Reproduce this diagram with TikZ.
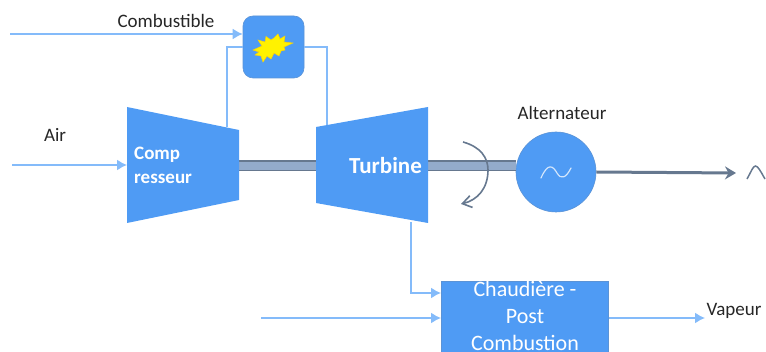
\documentclass[tikz,border=0pt]{standalone}
\usepackage{fontspec}
\setmainfont{Carlito}
\usetikzlibrary{arrows.meta,calc}
\definecolor{blockblue}{HTML}{4F9BF4}
\definecolor{blockedge}{HTML}{5B93D6}
\definecolor{flowblue}{HTML}{84BBFA}
\definecolor{shaftfill}{HTML}{93ABCB}
\definecolor{shaftedge}{HTML}{66788F}
\tikzset{
  flow/.style={draw=flowblue,line width=1.6pt},
  flowarrow/.style={flow,-{Latex[length=10pt,width=11pt]}},
  shaftbar/.style={draw=shaftedge,line width=11pt},
  shaftin/.style={draw=shaftfill,line width=7.5pt},
  dark/.style={text=black!85,font=\fontsize{19}{21}\selectfont,inner sep=0pt},
  white/.style={text=white,inner sep=0pt},
  block/.style={fill=blockblue,draw=none},
}
\begin{document}
\begin{tikzpicture}[x=1pt,y=-1pt]
\useasboundingbox (0,0) rectangle (766,352);
% anchor points
\coordinate (fuelin) at (10,34);
\coordinate (airin) at (12,165);
\coordinate (compout) at (227,127);
\coordinate (turbin) at (327,126);
\coordinate (compin) at (127,165);
\coordinate (compshaft) at (239,166);
\coordinate (turbshaftl) at (316,166);
\coordinate (turbshaftr) at (428,166);
\coordinate (exhaust) at (411,222);
\coordinate (waterin) at (261,318);
\coordinate (gridend) at (736,173);
\coordinate (vapend) at (705,318);
% flows below blocks
\node[block,rounded corners=10pt,draw=blockedge,line width=.6pt,minimum width=61pt,minimum height=62pt,inner sep=0pt] (burner) at (273.5,47) {};
\draw[flow] (compout) |- (burner.west);
\draw[flow] (burner.east) -| (turbin);
\draw[flowarrow] (fuelin) -- (fuelin -| burner.west);
% burst
\fill[yellow,draw=yellow!70!orange,line width=.5pt]
 (253,50) -- (262,46) -- (258,40) -- (265,42) -- (266,36.5) -- (271,40) -- (274,38) -- (278,34) -- (280,39) -- (285,36) -- (284,42) -- (293,43)
 -- (284,47) -- (285,50) -- (281,51) -- (279,56) -- (274,53) -- (271,59) -- (267,56) -- (263,62) -- (261,56) -- (255,55) -- (259,52) -- cycle;
% shafts
\draw[shaftbar] (compshaft) -- (turbshaftl);
\draw[shaftin] (compshaft) -- (turbshaftl);
\node[block,draw=blockedge,line width=.6pt,circle,minimum size=80pt,inner sep=0pt] (alt) at (556,172) {};
\draw[shaftbar] (turbshaftr) -- (turbshaftr -| alt.west);
\draw[shaftin] (turbshaftr) -- (turbshaftr -| alt.west);
\draw[draw=shaftedge,line width=3pt,-{Stealth[length=11pt,width=13pt]}] (alt.east) -- (gridend);
% compressor and turbine
\fill[block] (127,107) -- (239,130) -- (239,200) -- (127,223) -- cycle;
\fill[block] (316,127) -- (428,107) -- (428,223) -- (316,203) -- cycle;
\node[white,font=\fontsize{19}{24}\selectfont\bfseries,align=left,anchor=west] (comp) at (134,165) {Comp\\resseur};
\node[white,font=\fontsize{23}{26}\selectfont\bfseries] (turb) at (385.5,166) {Turbine};
% boiler
\node[block,draw=blockedge,line width=.6pt,anchor=north west,minimum width=167pt,minimum height=80pt,inner sep=0pt] (boiler) at (441,281) {};
\node[white,font=\fontsize{22}{27}\selectfont,align=center] (boilertext) at (525,316) {Chaudière -\\Post\\Combustion};
% other flows
\draw[flowarrow] (airin) -- (compin);
\draw[flowarrow] (exhaust) |- (boiler.west |- 0,293);
\draw[flowarrow] (waterin) -- (boiler.west |- waterin);
\draw[flowarrow] (boiler.east |- waterin) -- (vapend);
% rotation arrow
\draw[draw=shaftedge,line width=1.6pt,-{Straight Barb[length=9pt,width=12pt]}]
  (463,142) .. controls (481,147) and (488,158) .. (488,170) .. controls (488,188) and (478,200) .. (461,204);
% ac glyphs
\draw[draw=white!75!blockblue,line width=1.2pt,line cap=round] (541,178) .. controls (548,162) and (553,166) .. (557,173) .. controls (561,180) and (566,178) .. (571,168);
\draw[draw=shaftedge,line width=1.5pt] (747,179) .. controls (751,172) and (753,166) .. (755.5,166) .. controls (758,166) and (761,172) .. (765,179);
% labels
\node[dark] (lfuel) at (166,21) {Combustible};
\node[dark] (lair) at (55,135) {Air};
\node[dark] (lalt) at (562,113) {Alternateur};
\node[dark] (lvap) at (734,311) {Vapeur};
\end{tikzpicture}
\end{document}
